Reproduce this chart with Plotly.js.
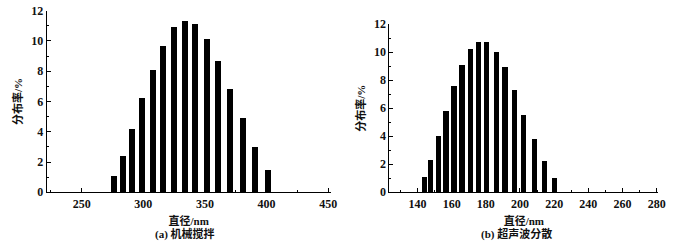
<!DOCTYPE html>
<html>
<head>
<meta charset="utf-8">
<script src="https://cdn.plot.ly/plotly-3.0.1.min.js"></script>
<style>html,body{margin:0;padding:0;background:#fff;}#chart{width:678px;height:247px;}</style>
</head>
<body>
<div id="chart"></div>
<script>
// (a) mechanical stirring
const diamA = [276, 283.7, 291, 299.1, 307.6, 315.7, 324.6, 333.5, 342.1, 351.4, 360.8, 370.5, 380.6, 390.8, 401.3];
const distA = [1.1, 2.4, 4.2, 6.2, 8.1, 9.7, 10.9, 11.3, 11.1, 10.1, 8.7, 6.8, 4.9, 3.0, 1.5];
// (b) ultrasonic dispersion
const diamB = [143.9, 147.8, 152.3, 156.7, 161.4, 166, 170.9, 175.8, 180.6, 186.1, 191.3, 196.8, 202.2, 208.3, 214.3, 220.3];
const distB = [1.1, 2.3, 4.0, 5.8, 7.6, 9.1, 10.2, 10.7, 10.7, 10.0, 8.9, 7.3, 5.5, 3.8, 2.2, 1.0];
const xTitle = '直径/nm';
const yTitle = '分布率/%';
const captionA = '(a) 机械搅拌';
const captionB = '(b) 超声波分散';

const FONT = '"Liberation Serif", "DejaVu Serif", serif';
const CJK = '"Liberation Serif", "Noto Sans CJK SC", serif';

const traces = [
  {type:'bar', x: diamA, y: distA, width: diamA.map(()=>4.9), marker:{color:'#000', line:{width:0}}, xaxis:'x', yaxis:'y', hoverinfo:'skip'},
  {type:'bar', x: diamB, y: distB, width: diamB.map(()=>3.1), marker:{color:'#000', line:{width:0}}, xaxis:'x2', yaxis:'y2', hoverinfo:'skip'}
];

const yBase = {
  range:[0,12], tickvals:[0,2,4,6,8,10,12], ticks:'inside', ticklen:4, tickwidth:1, tickcolor:'#000',
  minor:{dtick:1, ticks:'inside', ticklen:2, tickcolor:'#000'},
  showline:true, linecolor:'#000', linewidth:1, showgrid:false, zeroline:false,
  tickfont:{family:FONT, size:12, color:'#111', weight:'bold'},
  title:{text:yTitle, font:{family:CJK, size:11, color:'#111', weight:'bold'}, standoff:6}
};
const xBase = {
  ticks:'inside', ticklen:4, tickwidth:1, tickcolor:'#000',
  showline:true, linecolor:'#000', linewidth:1, showgrid:false, zeroline:false,
  tickfont:{family:FONT, size:12, color:'#111', weight:'bold'},
  title:{text:xTitle, font:{family:CJK, size:11, color:'#111', weight:'bold'}, standoff:7}
};

const layout = {
  width:678, height:247, margin:{l:0,r:0,t:0,b:0},
  paper_bgcolor:'#fff', plot_bgcolor:'#fff', showlegend:false, bargap:0,
  xaxis: Object.assign({}, xBase, {domain:[0.0689,0.4878], range:[221.6,452], tickvals:[250,300,350,400,450], minor:{dtick:25, tick0:0, ticks:'inside', ticklen:2, tickcolor:'#000'}, anchor:'y'}),
  yaxis: Object.assign({}, yBase, {domain:[0.2215,0.9567], anchor:'x'}),
  xaxis2: Object.assign({}, xBase, {domain:[0.5742,0.9710], range:[123.5,281], tickvals:[140,160,180,200,220,240,260,280], minor:{dtick:10, tick0:0, ticks:'inside', ticklen:2, tickcolor:'#000'}, anchor:'y2'}),
  yaxis2: Object.assign({}, yBase, {domain:[0.2215,0.9028], anchor:'x2'}),
  annotations:[
    {text:captionA, xref:'paper', yref:'paper', x:185/678, y:1-233.5/247, xanchor:'center', yanchor:'middle', showarrow:false, font:{family:CJK, size:11, color:'#111', weight:'bold'}},
    {text:captionB, xref:'paper', yref:'paper', x:516.7/678, y:1-233.5/247, xanchor:'center', yanchor:'middle', showarrow:false, font:{family:CJK, size:11, color:'#111', weight:'bold'}}
  ]
};

Plotly.newPlot('chart', traces, layout, {staticPlot:true, displayModeBar:false});
</script>
</body>
</html>
